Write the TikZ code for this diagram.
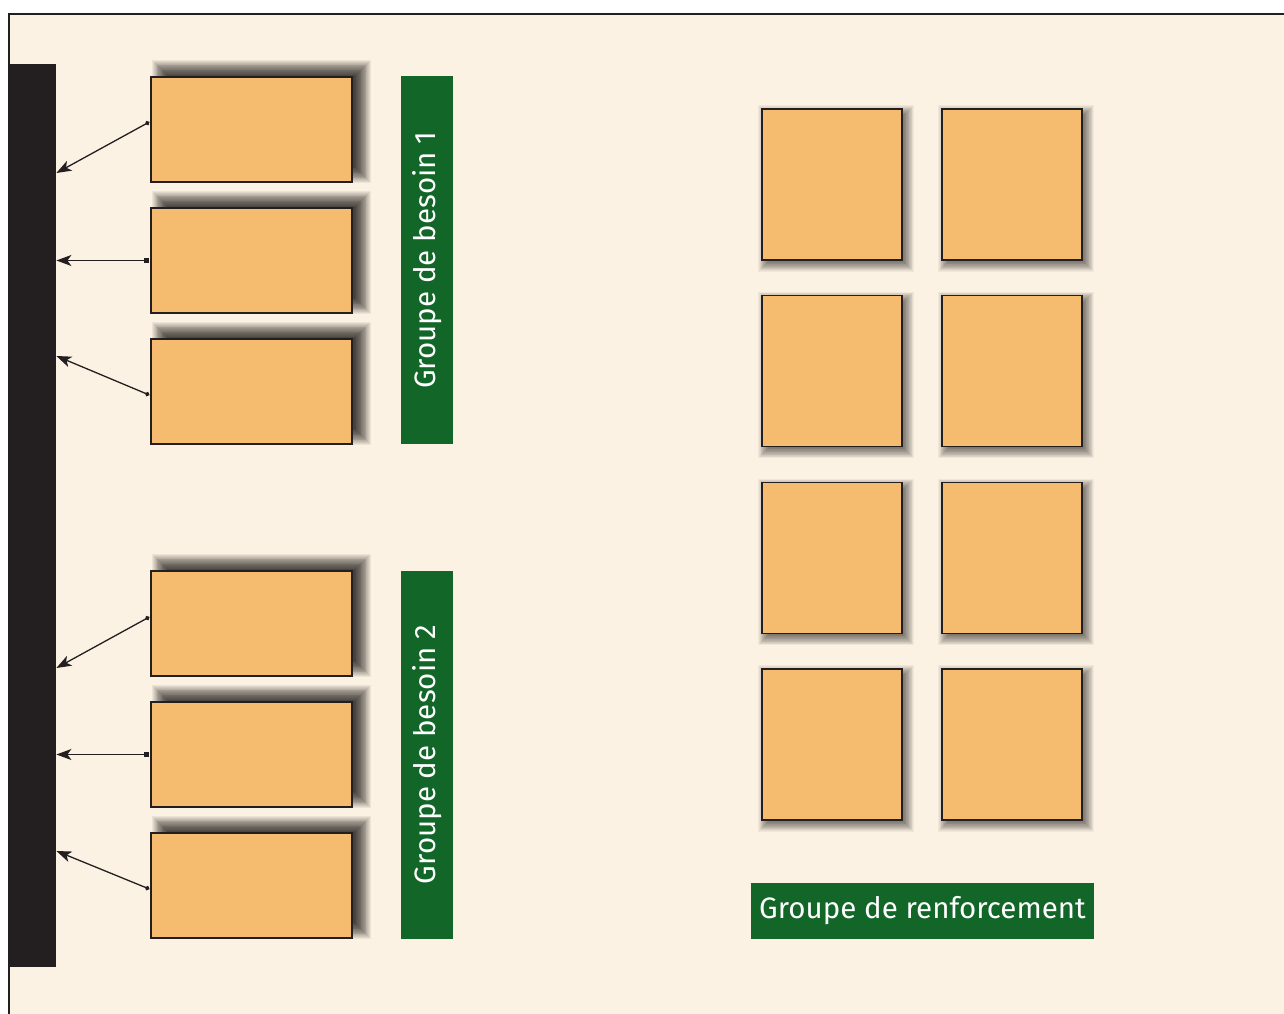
\documentclass[tikz,border=0pt]{standalone}
\usepackage{fontspec}
\setmainfont{Fira Sans}
\usetikzlibrary{arrows.meta}
\definecolor{cream}{HTML}{FCF2E3}
\definecolor{boxfill}{HTML}{F5BB6E}
\definecolor{ink}{HTML}{231F20}
\definecolor{lgreen}{HTML}{116628}
\pgfdeclarelayer{bglayer}
\pgfdeclarelayer{shadowlayer}
\pgfsetlayers{bglayer,shadowlayer,main}
\tikzset{
  lbox/.style={draw=ink, line width=1.4pt, fill=boxfill, minimum width=201pt, minimum height=105pt, inner sep=0pt},
  sqbox/.style={draw=ink, line width=1.4pt, fill=boxfill, minimum width=140pt, minimum height=151pt, inner sep=0pt},
  vlabel/.style={fill=lgreen, text=white, minimum width=368pt, minimum height=52pt, inner sep=0pt, rotate=90, font=\fontsize{29.5}{34}\selectfont},
  hlabel/.style={fill=lgreen, text=white, minimum width=343pt, minimum height=56pt, inner sep=0pt, font=\fontsize{29.5}{34}\selectfont},
  arrtip/.tip={Stealth[length=15pt,width=11pt,inset=4pt]},
  arr/.style={draw=ink, line width=1.3pt},
}
% soft shadow: #1 node, #2 dx, #3 dy, #4 radius, #5 layer opacity
\newcommand{\softshadow}[5]{%
  \foreach \k in {0,...,19}{%
    \pgfmathsetmacro\ee{#4-2*#4*\k/19}%
    \pgfmathsetmacro\xa{#2-\ee}\pgfmathsetmacro\ya{#3-\ee}%
    \pgfmathsetmacro\xb{#2+\ee}\pgfmathsetmacro\yb{#3+\ee}%
    \fill[black, fill opacity=#5] ([xshift=\xa pt, yshift=\ya pt]#1.south west) rectangle ([xshift=\xb pt, yshift=\yb pt]#1.north east);
  }}
\begin{document}
\begin{tikzpicture}[x=1pt,y=1pt]
\useasboundingbox (0,0) rectangle (1284,1013);
\begin{pgfonlayer}{bglayer}
\begin{scope}
\clip (0,0) rectangle (1284,1013);
\fill[white] (0,0) rectangle (1284,1013);
\fill[cream] (9,-5) rectangle (1290,999);
\draw[ink, line width=2.5pt] (9,-5) -- (9,999) -- (1290,999);
\end{scope}
\end{pgfonlayer}
% bar
\node[fill=ink, minimum width=47pt, minimum height=903pt, inner sep=0pt, anchor=south west] (bar) at (9,46) {};
% left boxes
\node[lbox] (b1) at (251.5,883.5) {};
\node[lbox] (b2) at (251.5,752.5) {};
\node[lbox] (b3) at (251.5,621.5) {};
\node[lbox] (b4) at (251.5,389.5) {};
\node[lbox] (b5) at (251.5,258.5) {};
\node[lbox] (b6) at (251.5,127.5) {};
% green labels
\node[vlabel] (g1) at (427,753) {Groupe de besoin 1};
\node[vlabel] (g2) at (427,258.5) {Groupe de besoin 2};
\node[hlabel] (g3) at (922.5,102) {Groupe de renforcement};
% squares
\node[sqbox] (s11) at (832,828.5) {};
\node[sqbox] (s12) at (1012,828.5) {};
\node[sqbox] (s21) at (832,642) {};
\node[sqbox] (s22) at (1012,642) {};
\node[sqbox] (s31) at (832,455) {};
\node[sqbox] (s32) at (1012,455) {};
\node[sqbox] (s41) at (832,268.5) {};
\node[sqbox] (s42) at (1012,268.5) {};
% shadows
\begin{pgfonlayer}{shadowlayer}
\foreach \b in {b1,b2,b3,b4,b5,b6}{\softshadow{\b}{10}{8}{8}{0.06}}
\foreach \s in {s11,s12,s21,s22,s31,s32,s41,s42}{\softshadow{\s}{4}{-4}{7}{0.045}}
\end{pgfonlayer}
% arrows
\draw[arr, {Circle[length=4.5pt]}-arrtip] ([yshift=7.5pt,xshift=-1pt]b1.west) -- (bar.east |- 0,840);
\draw[arr, {Square[length=5pt,width=5pt]}-arrtip] ([xshift=-1pt]b2.west) -- (bar.east |- 0,752.5);
\draw[arr, {Circle[length=4.5pt]}-arrtip] ([yshift=-3.5pt,xshift=-1pt]b3.west) -- (bar.east |- 0,657);
\draw[arr, {Circle[length=4.5pt]}-arrtip] ([yshift=6.5pt,xshift=-1pt]b4.west) -- (bar.east |- 0,345);
\draw[arr, {Square[length=5pt,width=5pt]}-arrtip] ([xshift=-1pt]b5.west) -- (bar.east |- 0,258.5);
\draw[arr, {Circle[length=4.5pt]}-arrtip] ([yshift=-3.5pt,xshift=-1pt]b6.west) -- (bar.east |- 0,162);
\end{tikzpicture}
\end{document}
